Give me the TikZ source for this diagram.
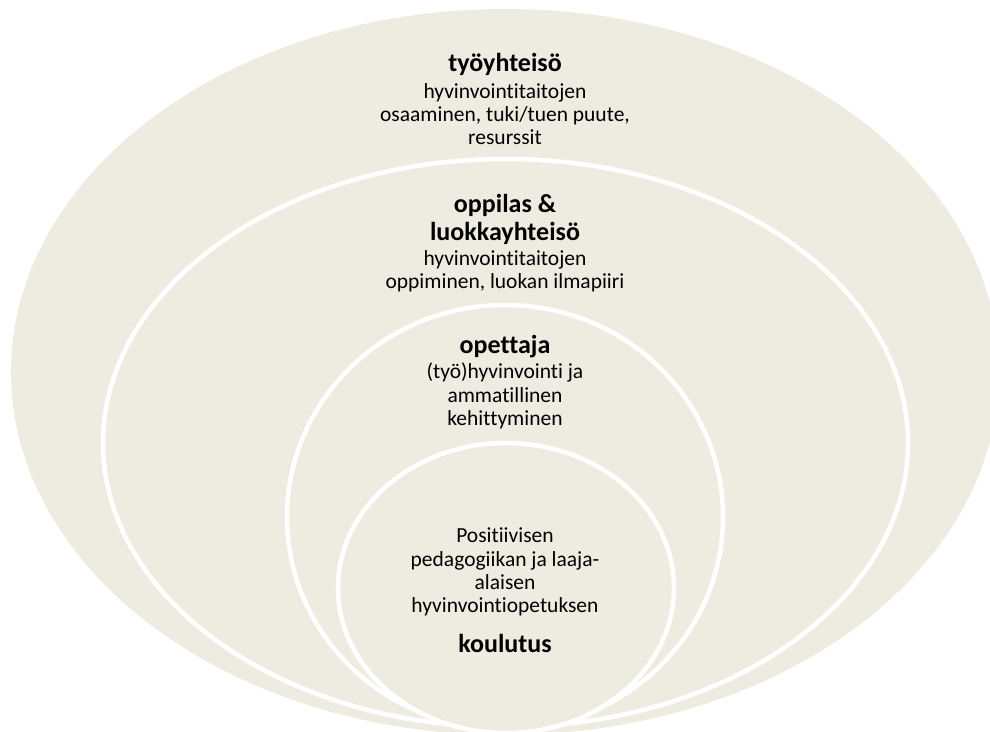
\documentclass[tikz,border=0pt]{standalone}
\usepackage{fontspec}
\setmainfont[RawFeature={-liga;-rlig;-clig;-dlig;-calt}]{Carlito}
\definecolor{tanbg}{HTML}{EEECE1}

\begin{document}
\begin{tikzpicture}[x=1pt, y=-1pt,
    ring/.style={fill=tanbg, draw=white, line width=4.5pt},
    head/.style={font=\fontsize{26}{28}\selectfont\bfseries, align=center, inner sep=0pt},
    body/.style={font=\fontsize{21.5}{23.3}\selectfont, align=center, inner sep=0pt}]
    \clip (0,0) rectangle (990,731);
    % rings, outermost first
    \fill[tanbg] (505,372) ellipse [x radius=494, y radius=363];
    \draw[ring] (505.5,443) ellipse [x radius=402.5, y radius=284];
    \draw[ring] (505,517) ellipse [x radius=218, y radius=212];
    \draw[ring] (506,588) ellipse [x radius=168, y radius=145];
    % texts
    \node[head] (tyo) at (505,64) {työyhteisö};
    \node[body] (tyotxt) at (505,114) {hyvinvointitaitojen\\osaaminen, tuki/tuen puute,\\resurssit};
    \node[head] (oppilas) at (505,219) {oppilas \&\\luokkayhteisö};
    \node[body] (oppilastxt) at (505,271.5) {hyvinvointitaitojen\\oppiminen, luokan ilmapiiri};
    \node[head] (opettaja) at (505,347) {opettaja};
    \node[body] (opettajatxt) at (505,396) {(työ)hyvinvointi ja\\ammatillinen\\kehittyminen};
    \node[body] (koulutustxt) at (505,572) {Positiivisen\\pedagogiikan ja laaja-\\alaisen\\hyvinvointiopetuksen};
    \node[head] (koulutus) at (505,643) {koulutus};
\end{tikzpicture}
\end{document}
